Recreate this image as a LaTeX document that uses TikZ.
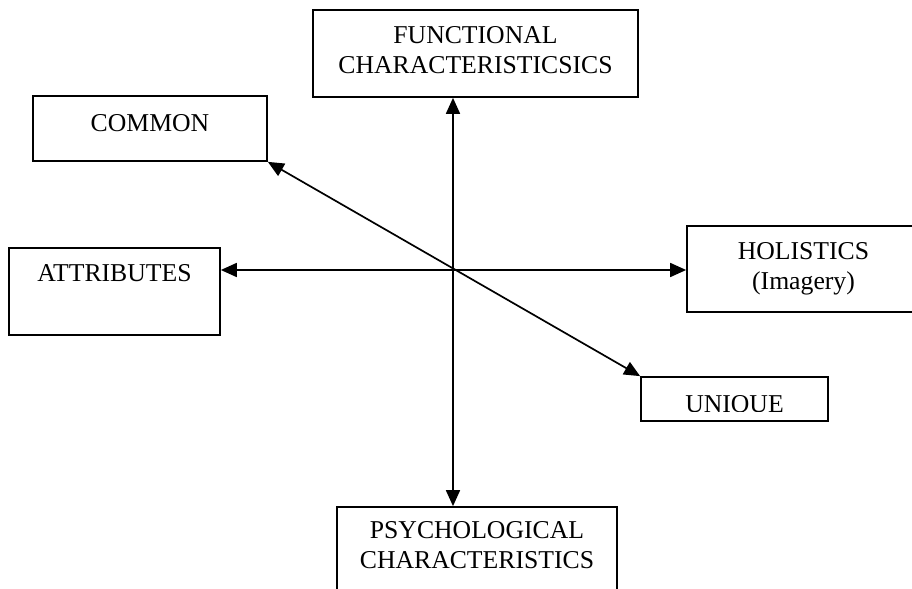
\documentclass[tikz,border=0pt]{standalone}
\usepackage{fontspec}
\setmainfont{Liberation Serif}
\usetikzlibrary{arrows.meta}
\tikzset{
  box/.style={draw, line width=0.85pt, rectangle, inner sep=0pt},
  lbl/.style={anchor=north, align=center, inner sep=0pt, font=\fontsize{12.85}{15}\selectfont},
  arr/.style={line width=0.85pt, {Triangle[length=8pt,width=7pt]}-{Triangle[length=8pt,width=7pt]}}
}
\newcommand{\topstrut}{\rule{0pt}{10pt}}
\begin{document}
\begin{tikzpicture}[x=0.5pt,y=-0.5pt]
\useasboundingbox (0,0) rectangle (912,589);
\clip (0,0) rectangle (912,589);
% boxes
\node[box, minimum width=162.5pt, minimum height=43.5pt] (func) at (475.5,53.5) {};
\node[box, minimum width=117pt, minimum height=32.5pt] (common) at (150,128.5) {};
\node[box, minimum width=105.5pt, minimum height=43.5pt] (attr) at (114.5,291.5) {};
\node[box, minimum width=116.5pt, minimum height=43pt] (hol) at (803.5,269) {};
\node[box, minimum width=93.5pt, minimum height=22pt] (uniq) at (734.5,399) {};
\node[box, minimum width=140pt, minimum height=44pt] (psych) at (477,551) {};
% labels
\node[lbl] (funct) at ([yshift=-7pt]func.north) {\topstrut FUNCTIONAL\\CHARACTERISTICSICS};
\node[lbl] (commont) at ([yshift=-8pt]common.north) {\topstrut COMMON};
\node[lbl] (attrt) at ([yshift=-7pt]attr.north) {\topstrut ATTRIBUTES};
\node[lbl] (holt) at ([yshift=-7pt]hol.north) {\topstrut HOLISTICS\\(Imagery)};
\node[lbl] (psycht) at ([yshift=-6pt]psych.north) {\topstrut PSYCHOLOGICAL\\CHARACTERISTICS};
\begin{scope}
  \clip (641,377) rectangle (828,411.5);
  \node[lbl] (uniqt) at ([yshift=-7.75pt]uniq.north) {\topstrut UNIQUE};
\end{scope}
% connectors
\coordinate (o) at (453,270);
\draw[arr] (o |- func.south) -- (o |- psych.north);
\draw[arr] (attr.east |- o) -- (hol.west |- o);
\draw[arr] (common.south east) -- (uniq.north west);
\end{tikzpicture}
\end{document}
